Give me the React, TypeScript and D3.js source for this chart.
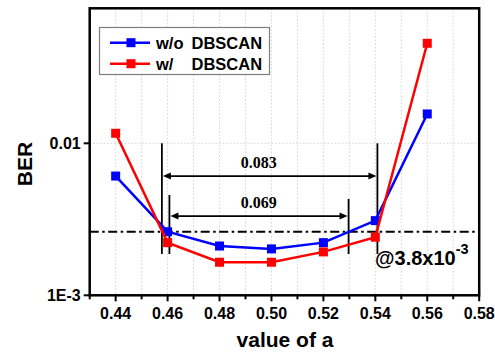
import React from 'react';
import * as d3 from 'd3';

// Parameter a swept along the x axis
const aValues = [0.44, 0.46, 0.48, 0.5, 0.52, 0.54, 0.56];
// Bit error rate without / with DBSCAN clustering
const berWithout = [6.09e-3, 2.62e-3, 2.11e-3, 2.02e-3, 2.22e-3, 3.1e-3, 0.0156];
const berWith = [0.01164, 2.22e-3, 1.65e-3, 1.65e-3, 1.93e-3, 2.41e-3, 0.0455];

const seriesNames = ['w/o', 'w/'];
const seriesSuffix = 'DBSCAN';
const seriesColors = ['#0000ff', '#ff0000'];

const xMajorTicks = [0.44, 0.46, 0.48, 0.5, 0.52, 0.54, 0.56, 0.58];
const xMinorTicks = [0.43, 0.45, 0.47, 0.49, 0.51, 0.53, 0.55, 0.57];
const xGridTicks = [0.44, 0.45, 0.46, 0.47, 0.48, 0.49, 0.5, 0.51, 0.52, 0.53, 0.54, 0.55, 0.56, 0.57];
const yTicks = [0.001, 0.01];
const yTickLabels = ['1E-3', '0.01'];

// BER limit line and its label
const thresholdBER = 2.62e-3;
const thresholdText = '@3.8x10';
const thresholdExp = '-3';

// Tolerance ranges of a (start, end, label, arrow level, tick top levels)
const spanStart = [0.4578, 0.4607];
const spanEnd = [0.5408, 0.5297];
const spanLabels = ['0.083', '0.069'];
const spanArrowBER = [6.09e-3, 3.32e-3];
const spanTopBERStart = [0.01, 4.57e-3];
const spanTopBEREnd = [0.01, 4.3e-3];
const spanBottomBER = 1.87e-3;

const W = 495;
const H = 352;
const plot = { left: 89.7, right: 479.2, top: 8.3, bottom: 295.3 };

const sans = '"Liberation Sans", Arial, sans-serif';
const serif = '"Liberation Serif", "Times New Roman", serif';

export default function App() {
  const x = d3.scaleLinear().domain([0.43, 0.58]).range([plot.left, plot.right]);
  const y = d3.scaleLog().domain([1e-3, 0.0773]).range([plot.bottom, plot.top]);

  const line = d3
    .line<number>()
    .x((_, i) => x(aValues[i]))
    .y((d) => y(d));

  const series = [berWithout, berWith];
  const ms = 9;

  const arrowHead = (px: number, py: number, dir: number) => {
    const len = 8;
    const half = 3.5;
    return `M${px},${py} L${px - dir * len},${py - half} L${px - dir * len},${py + half} Z`;
  };

  return (
    <svg
      width={W}
      height={H}
      style={{ position: 'absolute', left: 0, top: 0, background: '#fff' }}
    >
      <rect x={0} y={0} width={W} height={H} fill="#fff" />

      {/* grid */}
      {xGridTicks.map((t) => (
        <line
          key={'g' + t}
          x1={x(t)}
          x2={x(t)}
          y1={plot.top}
          y2={plot.bottom}
          stroke="#c8c8c8"
          strokeWidth={0.8}
          strokeDasharray="1.5,2"
        />
      ))}
      <line
        x1={plot.left}
        x2={plot.right}
        y1={y(0.01)}
        y2={y(0.01)}
        stroke="#c8c8c8"
        strokeWidth={0.8}
        strokeDasharray="1.5,2"
      />

      {/* threshold line */}
      <line
        x1={plot.left}
        x2={plot.right}
        y1={y(thresholdBER)}
        y2={y(thresholdBER)}
        stroke="#000"
        strokeWidth={2}
        strokeDasharray="9,3.5,2.5,3.5"
      />

      {/* span annotations */}
      {spanLabels.map((lab, i) => {
        const x0 = x(spanStart[i]);
        const x1 = x(spanEnd[i]);
        const ya = y(spanArrowBER[i]);
        return (
          <g key={'s' + i}>
            <line x1={x0} x2={x0} y1={y(spanTopBERStart[i])} y2={y(spanBottomBER)} stroke="#000" strokeWidth={1.8} />
            <line x1={x1} x2={x1} y1={y(spanTopBEREnd[i])} y2={y(spanBottomBER)} stroke="#000" strokeWidth={1.8} />
            <line x1={x0 + 4} x2={x1 - 4} y1={ya} y2={ya} stroke="#000" strokeWidth={1.8} />
            <path d={arrowHead(x0 + 1, ya, -1)} fill="#000" />
            <path d={arrowHead(x1 - 1, ya, 1)} fill="#000" />
            <text
              x={258.7}
              y={ya - 8}
              textAnchor="middle"
              fontFamily={serif}
              fontWeight="bold"
              fontSize={16}
              fill="#000"
            >
              {lab}
            </text>
          </g>
        );
      })}

      {/* series */}
      {series.map((s, si) => (
        <g key={'l' + si}>
          <path d={line(s) || ''} fill="none" stroke={seriesColors[si]} strokeWidth={2.5} />
          {s.map((v, i) => (
            <rect
              key={i}
              x={x(aValues[i]) - ms / 2}
              y={y(v) - ms / 2}
              width={ms}
              height={ms}
              fill={seriesColors[si]}
            />
          ))}
        </g>
      ))}

      {/* threshold label */}
      <text x={375} y={265} fontFamily={sans} fontWeight="bold" fontSize={20} fill="#000">
        {thresholdText}
        <tspan dy={-11} fontSize={14.5}>
          {thresholdExp}
        </tspan>
      </text>

      {/* frame */}
      <rect
        x={plot.left}
        y={plot.top}
        width={plot.right - plot.left}
        height={plot.bottom - plot.top}
        fill="none"
        stroke="#000"
        strokeWidth={2.5}
      />

      {/* x axis ticks */}
      {xMajorTicks.map((t) => (
        <g key={'xt' + t}>
          <line x1={x(t)} x2={x(t)} y1={plot.bottom} y2={plot.bottom + 6} stroke="#000" strokeWidth={2} />
          <text
            x={x(t)}
            y={plot.bottom + 24}
            textAnchor="middle"
            fontFamily={sans}
            fontWeight="bold"
            fontSize={16}
            fill="#000"
          >
            {t.toFixed(2)}
          </text>
        </g>
      ))}
      {xMinorTicks.map((t) => (
        <line key={'xm' + t} x1={x(t)} x2={x(t)} y1={plot.bottom} y2={plot.bottom + 4} stroke="#000" strokeWidth={2} />
      ))}

      {/* y axis ticks */}
      {yTicks.map((t, i) => (
        <g key={'yt' + t}>
          <line x1={plot.left - 6} x2={plot.left} y1={y(t)} y2={y(t)} stroke="#000" strokeWidth={2} />
          <text
            x={plot.left - 9}
            y={y(t)}
            dy="0.35em"
            textAnchor="end"
            fontFamily={sans}
            fontWeight="bold"
            fontSize={16}
            fill="#000"
          >
            {yTickLabels[i]}
          </text>
        </g>
      ))}

      {/* axis titles */}
      <text
        transform={`translate(32,164) rotate(-90)`}
        textAnchor="middle"
        fontFamily={sans}
        fontWeight="bold"
        fontSize={21}
        fill="#000"
      >
        BER
      </text>
      <text x={285} y={347} textAnchor="middle" fontFamily={sans} fontWeight="bold" fontSize={21} fill="#000">
        value of a
      </text>

      {/* legend */}
      <rect x={99.5} y={27.5} width={170} height={47} fill="#fff" stroke="#7f7f7f" strokeWidth={1.2} />
      {seriesNames.map((n, i) => {
        const ly = 42.7 + i * 21;
        return (
          <g key={'lg' + i}>
            <line x1={110} x2={150} y1={ly} y2={ly} stroke={seriesColors[i]} strokeWidth={2.5} />
            <rect x={131 - ms / 2} y={ly - ms / 2} width={ms} height={ms} fill={seriesColors[i]} />
            <text x={156} y={ly} dy="0.36em" fontFamily={sans} fontWeight="bold" fontSize={16.5} fill="#000">
              {n}
            </text>
            <text x={191.5} y={ly} dy="0.36em" fontFamily={sans} fontWeight="bold" fontSize={16.5} fill="#000">
              {seriesSuffix}
            </text>
          </g>
        );
      })}
    </svg>
  );
}
